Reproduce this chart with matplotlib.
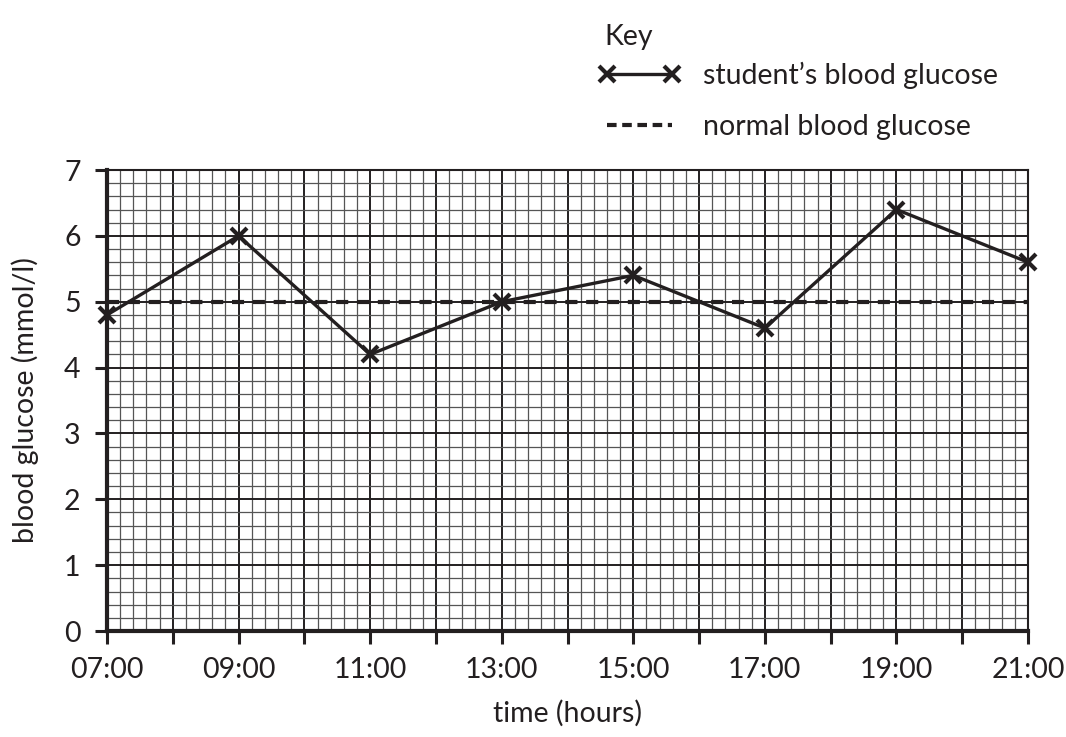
import matplotlib
matplotlib.use("Agg")
import matplotlib.pyplot as plt
from matplotlib.ticker import MultipleLocator

plt.rcParams['font.family'] = ['Lato', 'DejaVu Sans']

# data
hours = [7, 9, 11, 13, 15, 17, 19, 21]
student_glucose = [4.8, 6.0, 4.2, 5.0, 5.4, 4.6, 6.4, 5.6]
normal_glucose = 5.0
tick_hours = [7, 9, 11, 13, 15, 17, 19, 21]
tick_labels = ["07:00", "09:00", "11:00", "13:00", "15:00", "17:00", "19:00", "21:00"]

ink = '#231f20'
fs = 20.5

fig = plt.figure(figsize=(10.66, 7.37), dpi=100)
ax = fig.add_axes([0.1004, 0.1438, 0.9644 - 0.1004, 0.7693 - 0.1438])

ax.set_xlim(7, 21)
ax.set_ylim(0, 7)

ax.xaxis.set_minor_locator(MultipleLocator(0.2))
ax.yaxis.set_major_locator(MultipleLocator(1))
ax.yaxis.set_minor_locator(MultipleLocator(0.2))

ax.grid(which='minor', color='#555555', linewidth=0.9, zorder=0)
ax.grid(which='major', color=ink, linewidth=1.4, zorder=0)
ax.set_axisbelow(True)

# major ticks every hour, labels only every 2 hours
ax.set_xticks(list(range(7, 22)))
ax.set_xticklabels([tick_labels[tick_hours.index(h)] if h in tick_hours else '' for h in range(7, 22)])

ax.tick_params(which='major', direction='out', length=9, width=2.2, color=ink,
               labelsize=fs, labelcolor=ink, pad=10)
ax.tick_params(which='minor', length=0)

for side in ['left', 'bottom']:
    ax.spines[side].set_linewidth(3)
    ax.spines[side].set_color(ink)
for side in ['top', 'right']:
    ax.spines[side].set_linewidth(1.5)
    ax.spines[side].set_color(ink)

ax.axhline(normal_glucose, color=ink, linewidth=3, dashes=(2.9, 2.1),
           label='normal blood glucose', zorder=3)
ax.plot(hours, student_glucose, color=ink, linewidth=2.4, marker='x',
        markersize=11, markeredgewidth=3, label="student\u2019s blood glucose",
        zorder=4, clip_on=False)

ax.set_xlabel('time (hours)', fontsize=fs, color=ink, labelpad=12)
ax.set_ylabel('blood glucose (mmol/l)', fontsize=fs, color=ink, labelpad=18)

fig.text(604 / 1066, 1 - 37 / 737, 'Key', fontsize=fs, color=ink,
         ha='left', va='center')

h, l = ax.get_legend_handles_labels()
leg = fig.legend(h[::-1], l[::-1], loc='upper left',
                 bbox_to_anchor=(598 / 1066, 1 - 62 / 737), frameon=False,
                 fontsize=fs, numpoints=2, handlelength=2.9, handletextpad=0.8,
                 labelspacing=0.88, borderpad=0, borderaxespad=0)
for t in leg.get_texts():
    t.set_color(ink)
leg.get_lines()[1].set_dashes((2.3, 1.35))

fig.savefig('out.png', dpi=100)
